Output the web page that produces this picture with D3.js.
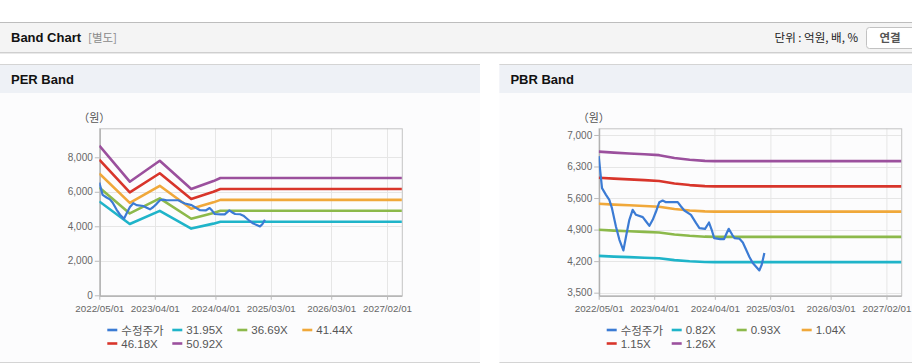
<!DOCTYPE html>
<html>
<head>
<meta charset="utf-8">
<script src="https://cdn.jsdelivr.net/npm/d3@7"></script>
<style>
  body { margin: 0; background: #fff; }
  svg { display: block; font-family: "Liberation Sans", Arial, "Noto Sans CJK KR", sans-serif; }
</style>
</head>
<body>
<svg id="chart" width="912" height="364"></svg>
<script>
// ── Data ────────────────────────────────────────────────────────────────────
const X_TICKS = ['2022-05-01', '2023-04-01', '2024-04-01', '2025-03-01', '2026-03-01', '2027-02-01'];
const X_DOMAIN = ['2022-05-01', '2027-05-01'];

// adjusted close (수정주가), shared by both panels
const PRICE_DATES = [
  '2022-05-01', '2022-05-21', '2022-06-14', '2022-07-04', '2022-07-20', '2022-08-13',
  '2022-09-03', '2022-09-27', '2022-10-17', '2022-11-02', '2022-11-22', '2022-12-12',
  '2023-01-22', '2023-02-11', '2023-03-03', '2023-03-23', '2023-04-12', '2023-05-02',
  '2023-05-22', '2023-06-11', '2023-08-21', '2023-09-10', '2023-09-30', '2023-11-09',
  '2023-12-10', '2023-12-30', '2024-02-02', '2024-02-26', '2024-03-13', '2024-03-28',
  '2024-05-03', '2024-05-27', '2024-06-12', '2024-06-24', '2024-07-15', '2024-07-29',
  '2024-08-28', '2024-09-17', '2024-10-07', '2024-10-27', '2024-11-16', '2024-12-10',
  '2024-12-26', '2025-01-09', '2025-01-25'
];
const PRICE_VALUES = [
  6530, 5819, 5671, 5560, 5376, 4969,
  4674, 4437, 4823, 5117, 5339, 5228,
  5177, 5080, 4984, 5117, 5301, 5509,
  5545, 5509, 5509, 5412, 5323, 5228,
  5044, 4933, 4918, 5057, 4896, 4712,
  4690, 4690, 4823, 4918, 4785, 4712,
  4697, 4615, 4453, 4291, 4158, 4061,
  3994, 4120, 4380
];

// PER band
const PER_DATES = ['2022-05-01', '2022-11-01', '2023-05-01', '2023-11-07', '2024-03-20', '2024-05-01', '2027-05-01'];
const PER_NAMES = ['31.95X', '36.69X', '41.44X', '46.18X', '50.92X'];
const PER_3195 = [5441, 4131, 4895, 3866, 4154, 4265, 4265];
const PER_3669 = [6248, 4744, 5621, 4439, 4770, 4898, 4898];
const PER_4144 = [7057, 5358, 6348, 5014, 5387, 5532, 5532];
const PER_4618 = [7865, 5971, 7075, 5588, 6003, 6165, 6165];
const PER_5092 = [8672, 6584, 7801, 6161, 6620, 6798, 6798];
const PER_Y_TICKS = [0, 2000, 4000, 6000, 8000];
const PER_Y_DOMAIN = [0, 9680];

// PBR band
const PBR_DATES = ['2022-05-01', '2022-08-01', '2022-11-01', '2023-02-01', '2023-05-01',
                   '2023-08-01', '2023-11-01', '2024-02-01', '2024-04-01', '2027-05-01'];
const PBR_NAMES = ['0.82X', '0.93X', '1.04X', '1.15X', '1.26X'];
const PBR_082 = [4316, 4301, 4289, 4276, 4264, 4223, 4198, 4182, 4178, 4178];
const PBR_093 = [4895, 4878, 4864, 4850, 4836, 4790, 4762, 4743, 4738, 4738];
const PBR_104 = [5474, 5455, 5439, 5424, 5408, 5356, 5325, 5304, 5299, 5299];
const PBR_115 = [6052, 6032, 6015, 5997, 5980, 5923, 5888, 5865, 5859, 5859];
const PBR_126 = [6631, 6609, 6590, 6571, 6552, 6489, 6451, 6426, 6420, 6420];
const PBR_Y_TICKS = [3500, 4200, 4900, 5600, 6300, 7000];
const PBR_Y_DOMAIN = [3442, 7148];

const PRICE_NAME = '수정주가';
const COLORS = ['#3b7bd4', '#1fb4c9', '#8cb94b', '#f0a83a', '#d8352b', '#9b509d'];

// ── Page chrome ─────────────────────────────────────────────────────────────
const parse = d3.timeParse('%Y-%m-%d');
const fmt = d3.timeFormat('%Y/%m/%d');
const svg = d3.select('#chart');

// top header bar
svg.append('rect').attr('x', 0).attr('y', 22).attr('width', 912).attr('height', 31).attr('fill', '#f4f4f4');
svg.append('line').attr('x1', 0).attr('x2', 912).attr('y1', 22.5).attr('y2', 22.5).attr('stroke', '#bdbdbd');
svg.append('line').attr('x1', 0).attr('x2', 912).attr('y1', 52.5).attr('y2', 52.5).attr('stroke', '#cfcfcf');
svg.append('line').attr('x1', 0).attr('x2', 912).attr('y1', 53.5).attr('y2', 53.5).attr('stroke', '#e9e9e9');
svg.append('text').attr('x', 11).attr('y', 42).attr('font-size', 13).attr('font-weight', 'bold')
  .attr('fill', '#111').text('Band Chart');
svg.append('text').attr('x', 88).attr('y', 42).attr('font-size', 11.5).attr('fill', '#8a8a8a')
  .attr('font-family', '"Noto Sans CJK KR", sans-serif').text('[별도]');
svg.append('text').attr('x', 858).attr('y', 42).attr('text-anchor', 'end').attr('font-size', 11.5)
  .attr('fill', '#222').attr('font-family', '"Noto Sans CJK KR", sans-serif').text('단위 : 억원, 배, %');
svg.append('rect').attr('x', 866.5).attr('y', 27.5).attr('width', 52).attr('height', 21).attr('rx', 3)
  .attr('fill', '#fff').attr('stroke', '#c2c2c2');
svg.append('text').attr('x', 890).attr('y', 42).attr('text-anchor', 'middle').attr('font-size', 11.5)
  .attr('font-weight', 'bold').attr('fill', '#555')
  .attr('font-family', '"Noto Sans CJK KR", sans-serif').text('연결');

// ── One band panel ──────────────────────────────────────────────────────────
function drawPanel(x0, panelW, title, yDomain, yTicks, bandDates, bands, names) {
  const g = svg.append('g').attr('transform', `translate(${x0},0)`);

  g.append('rect').attr('x', 0).attr('y', 64).attr('width', panelW).attr('height', 298).attr('fill', '#fcfcfd');
  g.append('rect').attr('x', 0).attr('y', 64).attr('width', panelW).attr('height', 29).attr('fill', '#eef1f6');
  g.append('line').attr('x1', 0).attr('x2', panelW).attr('y1', 64.5).attr('y2', 64.5).attr('stroke', '#d4d4d4');
  g.append('line').attr('x1', 0).attr('x2', panelW).attr('y1', 362.5).attr('y2', 362.5).attr('stroke', '#d4d4d4');
  g.append('text').attr('x', 11).attr('y', 84).attr('font-size', 13).attr('font-weight', 'bold')
    .attr('fill', '#111').text(title);

  const L = 99.3, T = 128.3, W = 302.5, H = 167;
  const x = d3.scaleTime().domain(X_DOMAIN.map(parse)).range([L, L + W]);
  const y = d3.scaleLinear().domain(yDomain).range([T + H, T]);

  // grid
  g.append('g').selectAll('line').data(X_TICKS.map(parse)).join('line')
    .attr('x1', d => Math.round(x(d)) + 0.5).attr('x2', d => Math.round(x(d)) + 0.5)
    .attr('y1', T).attr('y2', T + H).attr('stroke', '#e6e6e6');
  g.append('g').selectAll('line').data(yTicks).join('line')
    .attr('x1', L).attr('x2', L + W)
    .attr('y1', d => Math.round(y(d)) + 0.5).attr('y2', d => Math.round(y(d)) + 0.5)
    .attr('stroke', '#e6e6e6');

  // frame
  g.append('rect').attr('x', L + 0.5).attr('y', T + 0.5).attr('width', W).attr('height', H)
    .attr('fill', 'none').attr('stroke', '#c4c4c4');

  // axes
  const xAxis = d3.axisBottom(x).tickValues(X_TICKS.map(parse)).tickFormat(fmt).tickSize(4).tickSizeOuter(0);
  const xg = g.append('g').attr('transform', `translate(0,${T + H + 0.5})`).call(xAxis);
  xg.select('.domain').attr('stroke', '#aaa');
  xg.selectAll('.tick line').attr('stroke', '#bbb');
  xg.selectAll('.tick text').attr('fill', '#666').attr('font-size', 9.8)
    .attr('font-family', '"Liberation Sans", Arial, sans-serif').attr('dy', '0.9em');

  const yAxis = d3.axisLeft(y).tickValues(yTicks).tickFormat(d3.format(',')).tickSize(5).tickSizeOuter(0);
  const yg = g.append('g').attr('transform', `translate(${L + 0.5},0)`).call(yAxis);
  yg.select('.domain').attr('stroke', '#aaa');
  yg.selectAll('.tick line').attr('stroke', '#bbb');
  yg.selectAll('.tick text').attr('fill', '#666').attr('font-size', 10)
    .attr('font-family', '"Liberation Sans", Arial, sans-serif').attr('x', -7);

  g.append('text').attr('x', L - 5).attr('y', 122).attr('text-anchor', 'middle').attr('font-size', 11)
    .attr('fill', '#555').attr('font-family', '"Noto Sans CJK KR", sans-serif').text('（원）');

  // lines
  const line = d3.line().x(d => x(d[0])).y(d => y(d[1]));
  const clip = 'clip-' + Math.round(x0);
  g.append('clipPath').attr('id', clip).append('rect').attr('x', L).attr('y', T).attr('width', W + 1).attr('height', H);
  const lg = g.append('g').attr('clip-path', `url(#${clip})`);
  bands.forEach((vals, i) => {
    lg.append('path')
      .datum(bandDates.map((d, j) => [parse(d), vals[j]]))
      .attr('d', line).attr('fill', 'none')
      .attr('stroke', COLORS[i + 1]).attr('stroke-width', 2.6).attr('stroke-linejoin', 'round');
  });
  lg.append('path')
    .datum(PRICE_DATES.map((d, j) => [parse(d), PRICE_VALUES[j]]))
    .attr('d', line).attr('fill', 'none')
    .attr('stroke', COLORS[0]).attr('stroke-width', 2.2).attr('stroke-linejoin', 'round');

  // legend: 4 per row
  const items = [PRICE_NAME].concat(names);
  items.forEach((name, i) => {
    const lx = L + 8 + (i % 4) * 65;
    const ly = 330 + Math.floor(i / 4) * 13.5;
    g.append('line').attr('x1', lx).attr('x2', lx + 10).attr('y1', ly).attr('y2', ly)
      .attr('stroke', COLORS[i]).attr('stroke-width', 2.6);
    g.append('text').attr('x', lx + 14).attr('y', ly).attr('dominant-baseline', 'central')
      .attr('font-size', 11.5).attr('fill', '#555')
      .attr('font-family', i === 0 ? '"Noto Sans CJK KR", sans-serif' : '"Liberation Sans", Arial, sans-serif')
      .text(name);
  });
}

drawPanel(0, 480, 'PER Band', PER_Y_DOMAIN, PER_Y_TICKS, PER_DATES,
  [PER_3195, PER_3669, PER_4144, PER_4618, PER_5092], PER_NAMES);
drawPanel(499.4, 420, 'PBR Band', PBR_Y_DOMAIN, PBR_Y_TICKS, PBR_DATES,
  [PBR_082, PBR_093, PBR_104, PBR_115, PBR_126], PBR_NAMES);
</script>
</body>
</html>
